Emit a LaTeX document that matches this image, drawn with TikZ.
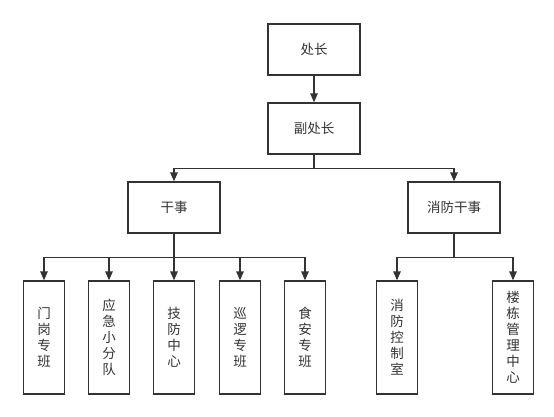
\documentclass[tikz,border=0pt]{standalone}
\usepackage{fontspec}
\newfontfamily\cjk{Noto Sans CJK SC}
\usetikzlibrary{arrows.meta}
\definecolor{linegray}{RGB}{51,51,51}

\tikzset{
  box/.style={draw=linegray, line width=1.4pt, minimum width=92pt, minimum height=51pt,
    inner sep=0pt, text=linegray, font=\cjk\fontsize{13.5}{16}\selectfont},
  tallbox/.style={box, minimum width=41pt, minimum height=113pt, align=center},
  conn/.style={draw=linegray, line width=1.4pt, -{Triangle[length=9pt,width=7.5pt]}}
}

\begin{document}
\begin{tikzpicture}[x=1pt,y=-1pt]
  \useasboundingbox (0,0) rectangle (554,417);

  % top levels
  \node [box] (chief) at (314,49.5) {处长};
  \node [box] (vice) at (314,128.5) {副处长};
  \node [box] (ganshi) at (174,207.5) {干事};
  \node [box] (fire) at (454,207.5) {消防干事};

  % bottom teams
  \node [tallbox] (gate) at (44,337.5) {门\\岗\\专\\班};
  \node [tallbox] (squad) at (109,337.5) {应\\急\\小\\分\\队};
  \node [tallbox] (tech) at (174,337.5) {技\\防\\中\\心};
  \node [tallbox] (patrol) at (240,337.5) {巡\\逻\\专\\班};
  \node [tallbox] (food) at (305,337.5) {食\\安\\专\\班};
  \node [tallbox] (control) at (397,337.5) {消\\防\\控\\制\\室};
  \node [tallbox] (building) at (513,337.5) {楼\\栋\\管\\理\\中\\心};

  % connectors
  \draw [conn] (chief) -- (vice);
  \draw [conn] (vice.south) -- ++(0,14) -| (ganshi.north);
  \draw [conn] (vice.south) -- ++(0,14) -| (fire.north);
  \foreach \t in {gate,squad,tech,patrol,food}
    \draw [conn] (ganshi.south) -- ++(0,24) -| (\t.north);
  \foreach \t in {control,building}
    \draw [conn] (fire.south) -- ++(0,24) -| (\t.north);
\end{tikzpicture}
\end{document}
